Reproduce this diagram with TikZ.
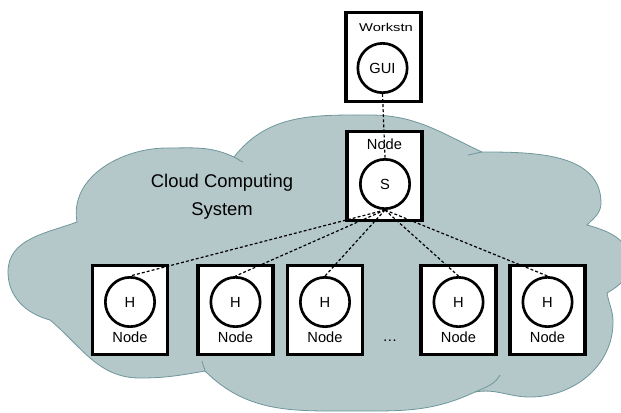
\documentclass[tikz,border=0pt]{standalone}
\usepackage{fontspec}
\setmainfont{Liberation Sans}
\definecolor{cloudfill}{RGB}{180,199,201}
\definecolor{cloudedge}{RGB}{111,151,155}

\begin{document}
\begin{tikzpicture}[
  x=0.75pt, y=0.75pt,
  font=\fontsize{11}{13}\selectfont,
  cloud/.style={fill=cloudfill, draw=cloudedge, line width=.6pt},
  stub/.style={draw=cloudedge, line width=.6pt},
  box/.style={draw, fill=white, line width=2.6pt, minimum width=56pt, minimum height=66.5pt, inner sep=0pt},
  proc/.style={draw, circle, line width=2pt, minimum size=37pt, inner sep=0pt},
  lbl/.style={inner sep=1pt},
  conn/.style={dash pattern=on 2.2pt off 1.6pt, line width=.9pt}
]
\useasboundingbox (0,0) rectangle (621,-412);
\path[cloud] (50,-320) to[out=165,in=-90] (8,-272) to[out=90,in=200] (77,-222)
  to[out=100,in=180] (167,-148) to[out=0,in=155] (234,-157)
  to[out=52,in=180] (370,-115) to[out=0,in=155] (482,-152)
  to[out=0,in=90] (601,-203) to[out=-90,in=45] (587,-225)
  to[out=-15,in=90] (630,-262) to[out=-90,in=30] (607,-293)
  to[out=-80,in=90] (613,-322) to[out=-90,in=0] (530,-397) to[out=180,in=10] (475,-392)
  to[out=-155,in=0] (355,-411) to[out=180,in=-45] (205,-371)
  to[out=190,in=0] (140,-378) to[out=180,in=-40] (50,-320) -- cycle;
\draw[stub] (234,-157) to[out=-25,in=160] (243,-162);
\draw[stub] (482,-152) to[out=190,in=10] (468,-155);
\draw[stub] (475,-392) to[out=25,in=-120] (500,-375);
\draw[stub] (205,-371) to[out=100,in=-80] (202,-361);
\node[font=\fontsize{13.8}{21}\selectfont, align=center] (cloudlbl) at (222,-196.5) {Cloud Computing\\System};

\node[box] (wkbox) at (383.5,-57) {};
\node[lbl, font=\fontsize{8.5}{10}\selectfont, xscale=1.3, transform shape] (wklbl) at (386,-27) {Workstn};
\node[proc] (gui) at (382.5,-68) {GUI};

\node[box] (srvbox) at (384.5,-176) {};
\node[lbl] (srvlbl) at (384.5,-144) {Node};
\node[proc] (srv) at (385,-184) {S};

\node[box] (hbox1) at (130,-310) {};
\node[proc] (h1) at (130,-302) {H};
\node[lbl] (hlbl1) at (130,-337) {Node};
\node[box] (hbox2) at (235.5,-310) {};
\node[proc] (h2) at (235.5,-302) {H};
\node[lbl] (hlbl2) at (235.5,-337) {Node};
\node[box] (hbox3) at (325,-310) {};
\node[proc] (h3) at (325,-302) {H};
\node[lbl] (hlbl3) at (325,-337) {Node};
\node[box] (hbox4) at (458.5,-310) {};
\node[proc] (h4) at (458.5,-302) {H};
\node[lbl] (hlbl4) at (458.5,-337) {Node};
\node[box] (hbox5) at (547.5,-310) {};
\node[proc] (h5) at (547.5,-302) {H};
\node[lbl] (hlbl5) at (547.5,-337) {Node};
\node[lbl] (more) at (390,-341) {\dots};

\draw[conn] (gui.south) -- (srv.north);
\draw[conn] (srv.south) -- (h1.north);
\draw[conn] (srv.south) -- (h2.north);
\draw[conn] (srv.south) -- (h3.north);
\draw[conn] (srv.south) -- (h4.north);
\draw[conn] (srv.south) -- (h5.north);
\end{tikzpicture}
\end{document}
